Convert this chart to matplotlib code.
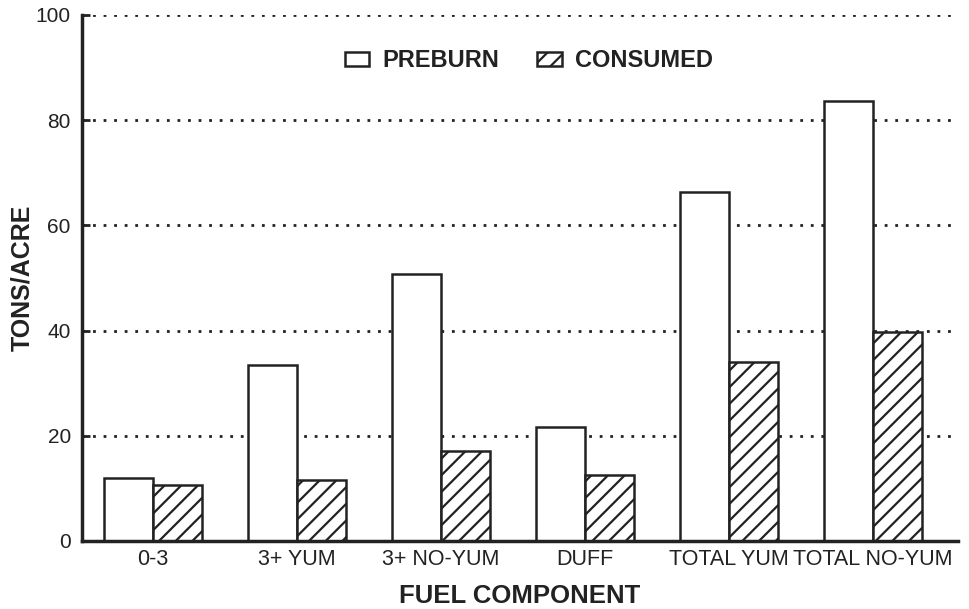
import matplotlib
matplotlib.use("Agg")
import matplotlib.pyplot as plt
import numpy as np

# Fuel components and their loadings (tons/acre)
categories = ["0-3", "3+ YUM", "3+ NO-YUM", "DUFF", "TOTAL YUM", "TOTAL NO-YUM"]
preburn = [11.9, 33.5, 50.8, 21.6, 66.3, 83.7]
consumed = [10.6, 11.5, 17.2, 12.5, 34.1, 39.8]
yticks = [0, 20, 40, 60, 80, 100]

plt.rcParams['font.family'] = ['Liberation Sans', 'DejaVu Sans']
plt.rcParams['hatch.linewidth'] = 1.6
ink = '#222222'

fig = plt.figure(figsize=(9.69, 6.09), dpi=100)
ax = fig.add_axes([0.0846, 0.1117, 0.904, 0.8637])

x = np.arange(len(categories))
w = 0.34

# dotted grid drawn under the bars
for y in yticks[1:]:
    ax.axhline(y, color=ink, linestyle=(0, (1, 2.8)), linewidth=2.0, zorder=0,
               xmax=0.995)

ax.bar(x - w / 2, preburn, w, facecolor='white', edgecolor=ink, linewidth=1.8,
       label='PREBURN', zorder=2)
ax.bar(x + w / 2, consumed, w, facecolor='white', edgecolor=ink, linewidth=1.8,
       hatch='//', label='CONSUMED', zorder=2)

ax.set_xlim(-0.49, 5.59)
ax.set_ylim(0, 100)
ax.set_yticks(yticks)
ax.set_xticks(x)
ax.set_xticklabels(categories)

for s in ['top', 'right']:
    ax.spines[s].set_visible(False)
for s in ['left', 'bottom']:
    ax.spines[s].set_linewidth(2.5)
    ax.spines[s].set_color(ink)

ax.tick_params(axis='y', direction='in', length=6, width=2, colors=ink,
               labelsize=15, pad=8)
ax.tick_params(axis='x', length=0, colors=ink, labelsize=15.5, pad=6)

ax.set_xlabel('FUEL COMPONENT', fontsize=18.5, fontweight='bold', color=ink)
ax.set_ylabel('TONS/ACRE', fontsize=18, fontweight='bold', color=ink)
ax.xaxis.set_label_coords(0.5, -0.082)
ax.yaxis.set_label_coords(-0.055, 0.5)

leg = ax.legend(loc='upper center', bbox_to_anchor=(0.51, 0.975), ncol=2,
                frameon=False, fontsize=17, handlelength=1.05, handleheight=0.5,
                columnspacing=1.6, handletextpad=0.55)
for t in leg.get_texts():
    t.set_fontweight('bold')
    t.set_color(ink)

fig.savefig('out.png', dpi=100)
